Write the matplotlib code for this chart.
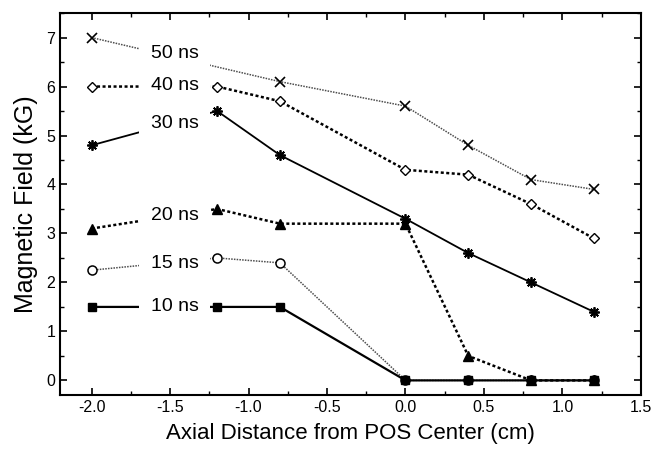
import matplotlib
matplotlib.use('Agg')
import matplotlib.pyplot as plt
from matplotlib.ticker import MultipleLocator

plt.rcParams['font.family'] = ['Liberation Sans', 'DejaVu Sans']

# axial positions (cm)
pos = [-2.0, -1.2, -0.8, 0.0, 0.4, 0.8, 1.2]
pos_50 = [-2.0, -0.8, 0.0, 0.4, 0.8, 1.2]

# magnetic field (kG) for each time
b_50 = [7.0, 6.1, 5.6, 4.8, 4.1, 3.9]
b_40 = [6.0, 6.0, 5.7, 4.3, 4.2, 3.6, 2.9]
b_30 = [4.8, 5.5, 4.6, 3.3, 2.6, 2.0, 1.4]
b_20 = [3.1, 3.5, 3.2, 3.2, 0.5, 0.0, 0.0]
b_15 = [2.25, 2.5, 2.4, 0.0, 0.0, 0.0, 0.0]
b_10 = [1.5, 1.5, 1.5, 0.0, 0.0, 0.0, 0.0]

labels = ['50 ns', '40 ns', '30 ns', '20 ns', '15 ns', '10 ns']
label_y = [6.67, 6.02, 5.24, 3.37, 2.39, 1.51]

fig = plt.figure(figsize=(6.54, 4.51), dpi=100)
ax = fig.add_axes([0.092, 0.124, 0.888, 0.847])

ax.plot(pos_50, b_50, linestyle=(0, (1, 0.8)), color='0.3', lw=1.1,
        marker='x', ms=7, mew=1.2, mec='black')
ax.plot(pos, b_40, linestyle=(0, (1.2, 1)), color='black', lw=1.8,
        marker='D', ms=5, mfc='white', mec='black', mew=1)
ax.plot(pos, b_30, linestyle='-', color='black', lw=1.3,
        marker=(8, 2, 0), ms=7.5, mew=1.3, mec='black')
ax.plot(pos, b_20, linestyle=(0, (1.2, 1)), color='black', lw=1.8,
        marker='^', ms=7, mfc='black', mec='black')
ax.plot(pos, b_15, linestyle=(0, (1, 0.8)), color='0.3', lw=1.1,
        marker='o', ms=6.5, mfc='white', mec='black', mew=1.1)
ax.plot(pos, b_10, linestyle='-', color='black', lw=1.6,
        marker='s', ms=6, mfc='black', mec='black')

for lab, yy in zip(labels, label_y):
    ax.text(-1.47, yy, lab, fontsize=14, ha='center', va='center', zorder=5,
            bbox=dict(boxstyle='square,pad=0.6', fc='white', ec='none'))

ax.set_xlim(-2.2, 1.5)
ax.set_ylim(-0.3, 7.5)
ax.xaxis.set_major_locator(MultipleLocator(0.5))
ax.xaxis.set_minor_locator(MultipleLocator(0.25))
ax.yaxis.set_major_locator(MultipleLocator(1))
ax.yaxis.set_minor_locator(MultipleLocator(0.5))
ax.xaxis.set_major_formatter(matplotlib.ticker.FormatStrFormatter('%.1f'))

ax.tick_params(which='both', direction='in', top=True, right=True, labelsize=11.5)
ax.tick_params(which='major', length=5, width=1.2)
ax.tick_params(which='minor', length=3, width=1)
for s in ax.spines.values():
    s.set_linewidth(1.5)

ax.set_xlabel('Axial Distance from POS Center (cm)', fontsize=16, labelpad=6)
ax.set_ylabel('Magnetic Field (kG)', fontsize=18, labelpad=6)

fig.savefig('out.png', dpi=100)
